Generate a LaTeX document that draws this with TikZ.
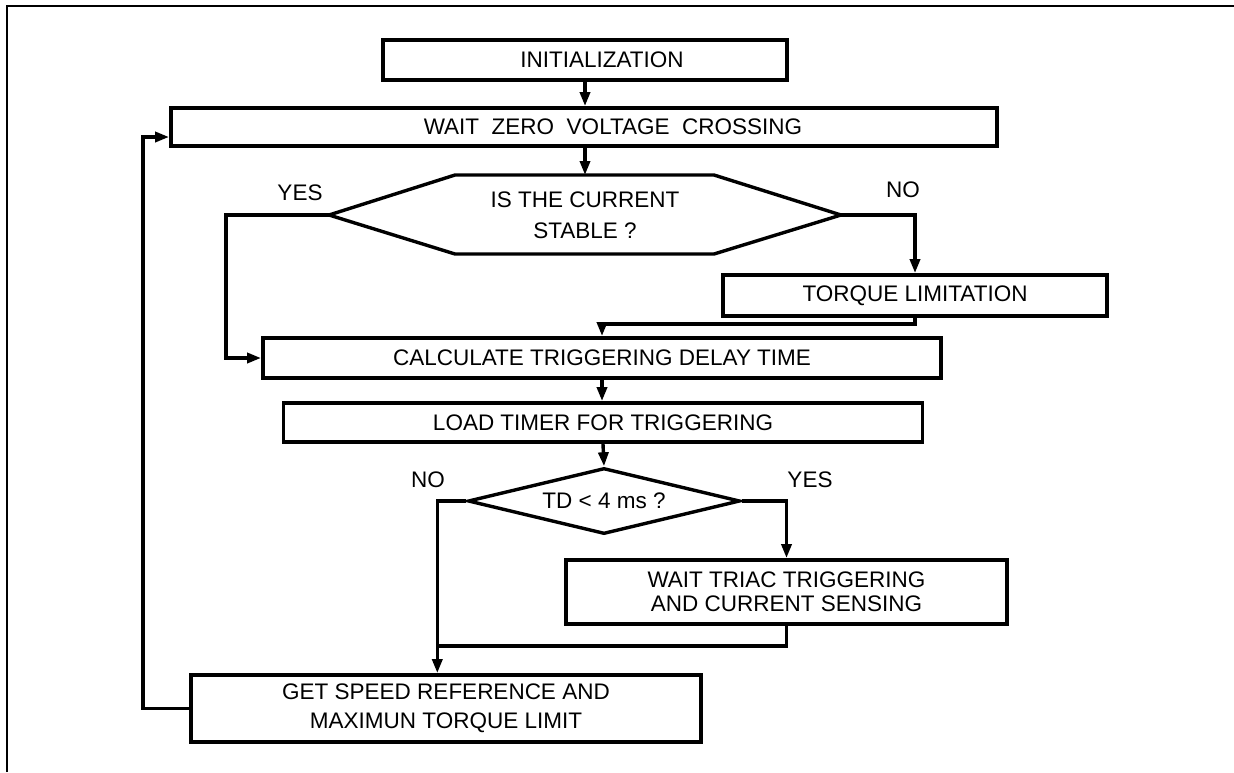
\documentclass[tikz,border=0pt]{standalone}
\usepackage{fontspec}
\setmainfont{Liberation Sans}
\usetikzlibrary{arrows.meta,shapes.geometric,calc}
\begin{document}
\begin{tikzpicture}[x=1pt,y=-1pt,
  box/.style={draw, line width=3.8pt, inner sep=0pt, align=center, font=\fontsize{22.5}{29}\selectfont},
  conn/.style={line width=3.4pt},
  arr/.style={conn,-{Triangle[length=14pt,width=10pt]}},
  lbl/.style={font=\fontsize{22.5}{27}\selectfont, inner sep=0pt},
  txt/.style={font=\fontsize{22.5}{31}\selectfont, inner sep=0pt, align=center},
  frame/.style={line width=1.8pt}]
\useasboundingbox (0,0) rectangle (1234,772);
\draw[frame] (7,772) -- (7,6) -- (1234,6);

\node[box, minimum width=404pt, minimum height=40pt] (init) at (585,60) {\hspace*{34pt}INITIALIZATION};
\node[box, minimum width=826pt, minimum height=38pt] (wz) at (584,127) {\hspace*{58pt}WAIT\ \ ZERO\ \ VOLTAGE\ \ CROSSING};

\node[txt] (q) at (585,215) {IS THE CURRENT\\STABLE ?};
\draw[line width=3.4pt] (329,215) coordinate (qw) -- (455,175) -- (714,175) -- (841,215) coordinate (qe) -- (714,254) -- (455,254) -- cycle;
\coordinate (qn) at (585,175);

\node[box, minimum width=384pt, minimum height=41pt] (tl) at (915,295.5) {TORQUE LIMITATION};
\node[box, minimum width=678pt, minimum height=40pt] (calc) at (602,358) {CALCULATE TRIGGERING DELAY TIME};
\node[box, minimum width=639pt, minimum height=39pt] (load) at (603,422.5) {LOAD TIMER FOR TRIGGERING};
\node[draw, diamond, aspect=4.1, line width=3.4pt, inner sep=0pt, minimum width=272pt, minimum height=66pt, font=\fontsize{22.5}{27}\selectfont] (td) at (604,501) {TD < 4 ms ?};
\node[box, minimum width=441pt, minimum height=64pt, font=\fontsize{22.5}{24}\selectfont] (wt) at (786.5,592) {WAIT TRIAC TRIGGERING\\AND CURRENT SENSING};
\node[box, minimum width=510pt, minimum height=67pt] (gs) at (446,708.5) {GET SPEED REFERENCE AND\\MAXIMUN TORQUE LIMIT};

\node[lbl] (yes1) at (300,193) {YES};
\node[lbl] (no1) at (903,190) {NO};
\node[lbl] (no2) at (428,480) {NO};
\node[lbl] (yes2) at (810,480) {YES};

\draw[arr] (init.south) -- (init.south |- wz.north);
\draw[arr] (wz.south -| qn) -- (qn);
\draw[arr] (qe) -| (tl.north);
\draw[arr] (tl.south) -- ++(0,6) -| (calc.north);
\draw[arr] (qw) -- ++(-103,0) |- (calc.west);
\draw[arr] (calc.south) -- (calc.south |- load.north);
\draw[arr] (load.south) -- (td.north);
\draw[arr] (td.west) -- ++(-29,0) coordinate (nb) -- (nb |- gs.north);
\draw[arr] (td.east) -| (wt.north);
\draw[conn] (wt.south) -- ++(0,20) coordinate (j0) -- (j0 -| nb);
\draw[arr] (gs.west) -- ++(-46,0) |- ($(wz.west)+(0,10)$);
\end{tikzpicture}
\end{document}
